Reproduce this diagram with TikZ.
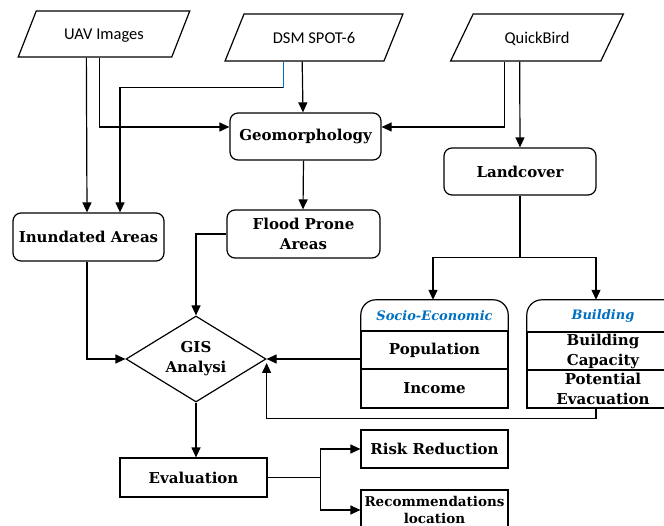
\documentclass[tikz,border=0pt]{standalone}
\usepackage{fontspec}
\setmainfont{DejaVu Serif}
\newfontfamily\inputfont{Carlito}
\usetikzlibrary{positioning, arrows.meta, shapes.geometric, calc}
\definecolor{titleblue}{RGB}{0,112,192}
\newcommand{\boxfont}{\bfseries\fontsize{15}{20}\selectfont}
\tikzset{
  inputbox/.style={trapezium, trapezium left angle=45, trapezium right angle=135,
    trapezium stretches=true, draw, line width=1.2pt, inner sep=0pt,
    font=\inputfont\fontsize{16.5}{18}\selectfont},
  procbox/.style={draw, rounded corners=8pt, line width=1.2pt, align=center,
    font=\boxfont, inner sep=1pt},
  plainbox/.style={draw, line width=1.2pt, align=center, font=\boxfont, inner sep=1pt},
  rowbox/.style={draw, line width=1.2pt, align=center, font=\boxfont, inner sep=1pt},
  titlebox/.style={align=center, text=titleblue, inner sep=0pt,
    font=\bfseries\itshape\fontsize{13}{15}\selectfont},
  arr/.style={-{Triangle[length=10pt,width=9pt]}, line width=1.2pt},
  link/.style={line width=1.2pt}
}
\begin{document}
\begin{tikzpicture}[x=1pt, y=-1pt]
  \useasboundingbox (0,0) rectangle (664,526);
  % inputs
  \node[inputbox, minimum width=172pt, minimum height=46pt, text depth=-3pt] (uav) at (104,34) {UAV Images};
  \node[inputbox, minimum width=178pt, minimum height=47pt, text depth=-3pt] (dsm) at (314,37.5) {DSM SPOT-6};
  \node[inputbox, minimum width=174pt, minimum height=47pt, text depth=-3pt] (qbird) at (537,37.5) {QuickBird};
  % processing
  \node[procbox, minimum width=151pt, minimum height=47pt] (geomorph) at (305.5,136.5) {Geomorphology};
  \node[procbox, minimum width=152pt, minimum height=47pt] (landcov) at (520,171.5) {Landcover};
  \node[procbox, minimum width=151pt, minimum height=48pt] (inund) at (88.5,237) {Inundated Areas};
  \node[procbox, minimum width=153pt, minimum height=48pt] (flood) at (303.5,234) {Flood Prone\\Areas};
  \node[diamond, draw, line width=1.2pt, aspect=1.63, inner sep=0pt, align=center, font=\boxfont,
    minimum width=140pt, minimum height=86pt] (gis) at (196,359) {GIS\\Analysi};
  % socio-economic group
  \node[titlebox, minimum width=147pt, minimum height=31pt] (sociotitle) at (434.5,315.5) {Socio-Economic};
  \node[rowbox, minimum width=147pt, minimum height=38pt] (popul) at (434.5,350) {Population};
  \node[rowbox, minimum width=147pt, minimum height=39pt] (income) at (434.5,388.5) {Income};
  \draw[link, rounded corners=15pt] (sociotitle.south west) -- (sociotitle.north west)
    -- (sociotitle.north east) -- (sociotitle.south east);
  % building group
  \node[titlebox, minimum width=152pt, minimum height=32pt] (bldtitle) at (603,316) {Building};
  \node[rowbox, minimum width=152pt, minimum height=38pt] (bldcap) at (603,351) {Building\\ Capacity};
  \node[rowbox, minimum width=152pt, minimum height=38pt] (evacu) at (603,389) {Potential\\Evacuation};
  \draw[link, rounded corners=15pt] (bldtitle.south west) -- (bldtitle.north west)
    -- (bldtitle.north east) -- (bldtitle.south east);
  % outputs
  \node[plainbox, minimum width=147pt, minimum height=39pt] (eval) at (193.5,477.5) {Evaluation};
  \node[plainbox, minimum width=147pt, minimum height=38pt] (riskred) at (434.5,449) {Risk Reduction};
  \node[plainbox, minimum width=147pt, minimum height=40pt, font=\bfseries\fontsize{13.5}{17}\selectfont]
    (recloc) at (434.5,510) {Recommendations\\location};
  % connectors
  \draw[arr] ([xshift=69pt]uav.bottom left corner) -- ([xshift=-1.5pt]inund.north);
  \draw[arr] ([xshift=82pt]uav.bottom left corner) |- ([yshift=9.5pt]geomorph.west);
  \draw[link, titleblue] ([xshift=59pt]dsm.bottom left corner) -- ++(0,26) coordinate (dsmbend);
  \draw[arr] (dsmbend) -| ([xshift=31.5pt]inund.north);
  \draw[arr] ([xshift=78pt]dsm.bottom left corner) -- ([xshift=-2.5pt]geomorph.north);
  \draw[arr] ([xshift=55pt]qbird.bottom left corner) |- ([yshift=9.5pt]geomorph.east);
  \draw[arr] ([xshift=70pt]qbird.bottom left corner) -- (landcov.north);
  \draw[arr] ([xshift=-2pt]geomorph.south) -- ([xshift=-0.5pt]flood.north);
  \draw[link] (landcov.south) -- ++(0,62) coordinate (split);
  \draw[arr] (split) -| ([xshift=-1.5pt]sociotitle.north);
  \draw[arr] (split) -| ([xshift=-7pt]bldtitle.north);
  \draw[arr] (flood.west) -| (gis.north);
  \draw[arr] ([xshift=-1.5pt]inund.south) |- (gis.west);
  \draw[arr] (popul.west |- gis.east) -- (gis.east);
  \draw[arr] ([xshift=-7pt]evacu.south) -- ++(0,10) -| ([yshift=-4pt]gis.east);
  \draw[arr] (gis.south) -- (gis.south |- eval.north);
  \draw[link] (eval.east) -- ++(53,0) coordinate (fork);
  \draw[arr] (fork) |- (riskred.west);
  \draw[arr] (fork) |- (recloc.west);
\end{tikzpicture}
\end{document}
